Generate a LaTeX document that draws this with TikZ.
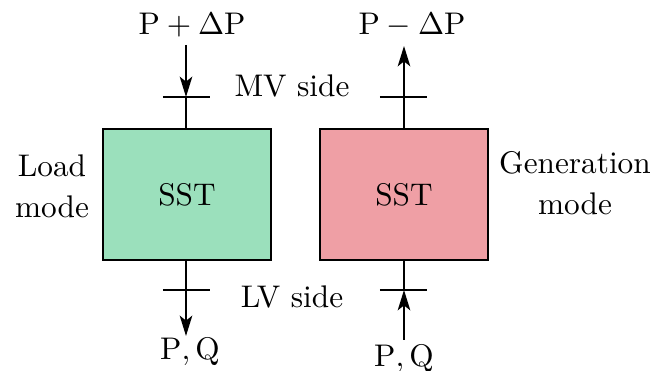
\documentclass[tikz,border=0pt]{standalone}
\usetikzlibrary{arrows.meta}
\definecolor{loadgreen}{HTML}{9BE0BC}
\definecolor{genred}{HTML}{EF9FA5}
\begin{document}
\begin{tikzpicture}[x=0.3195pt,y=-0.3195pt,
  sstbox/.style={draw,line width=0.7pt,minimum width=53.7pt,minimum height=41.9pt,inner sep=0pt},
  wire/.style={line width=0.65pt},
  arr/.style={wire,-{Stealth[length=6.5pt,width=4pt,inset=1.6pt]}},
  lbl/.style={inner sep=0pt,font=\fontsize{10}{13.1}\selectfont,align=center}]
\useasboundingbox (0,0) rectangle (665,371);
% boxes
\node[sstbox,fill=loadgreen] (sst1) at (187,194.5) {SST};
\node[sstbox,fill=genred] (sst2) at (404,194.5) {SST};
% labels
\node[lbl,anchor=base] (ptop1) at (192,35) {$\mathrm{P}+\Delta\mathrm{P}$};
\node[lbl,anchor=base] (ptop2) at (412,35) {$\mathrm{P}-\Delta\mathrm{P}$};
\node[lbl,anchor=base] (mv) at (292,97) {MV side};
\node[lbl,anchor=base] (lv) at (292,308) {LV side};
\node[lbl,anchor=base] (pq1) at (190,360) {$\mathrm{P},\mathrm{Q}$};
\node[lbl,anchor=base] (pq2) at (404,367) {$\mathrm{P},\mathrm{Q}$};
\node[lbl] (load) at (52,186.5) {Load\\mode};
\node[lbl] (gen) at (575,183) {Generation\\mode};
% coordinates
\coordinate (a1) at (186,45);
\coordinate (c1) at (186,97);
\coordinate (c1l) at (163,97);
\coordinate (c1r) at (210,97);
\coordinate (d1) at (186,290);
\coordinate (d1l) at (163,290);
\coordinate (d1r) at (210,290);
\coordinate (e1) at (186,336);
\coordinate (a2) at (404,46);
\coordinate (c2) at (404,97);
\coordinate (c2l) at (380,97);
\coordinate (c2r) at (427,97);
\coordinate (d2) at (404,290);
\coordinate (d2l) at (380,290);
\coordinate (d2r) at (427,290);
\coordinate (e2) at (404,340);
% left: load mode
\draw[arr] (a1) -- (c1);
\draw[wire] (c1) -- (sst1.north -| c1);
\draw[wire] (c1l) -- (c1r);
\draw[arr] (sst1.south -| d1) -- (e1);
\draw[wire] (d1l) -- (d1r);
% right: generation mode
\draw[arr] (sst2.north -| c2) -- (a2);
\draw[wire] (c2l) -- (c2r);
\draw[arr] (e2) -- (d2);
\draw[wire] (d2) -- (sst2.south -| d2);
\draw[wire] (d2l) -- (d2r);
\end{tikzpicture}
\end{document}
